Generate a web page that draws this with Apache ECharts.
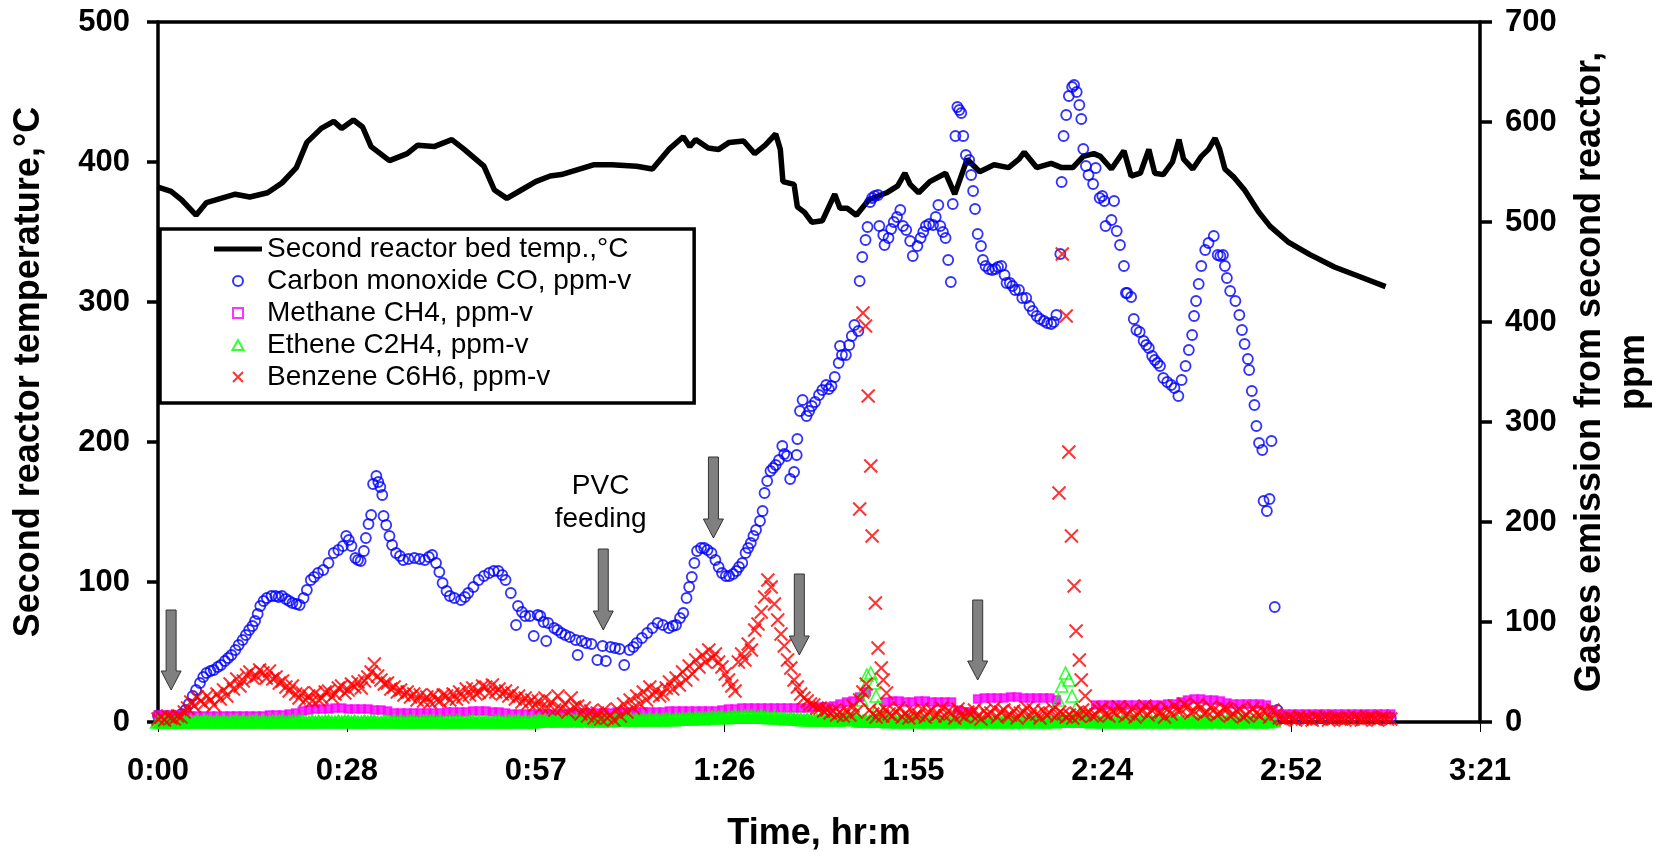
<!DOCTYPE html>
<html><head><meta charset="utf-8">
<script src="https://cdn.jsdelivr.net/npm/echarts@6/dist/echarts.min.js"></script>
<style>html,body{margin:0;padding:0;background:#fff}#c{width:1665px;height:852px}</style>
</head><body><div id="c"></div>
<script>
const FONT = '"Liberation Sans", Arial, Helvetica, sans-serif';

// ---- axes (time in minutes; ticks every 0.02 day = 28.8 min) ----
const timeAxisMax = 201.6;
const timeTickStep = 28.8;
const tempAxis = [0, 500, 100];   // min, max, step (°C)
const gasAxis = [0, 700, 100];    // min, max, step (ppm)

const seriesNames = ['Second reactor bed temp.,°C', 'Carbon monoxide CO, ppm-v', 'Methane CH4, ppm-v', 'Ethene C2H4, ppm-v', 'Benzene C6H6, ppm-v'];

// ---- second reactor bed temperature [minute, °C] ----
const bedTemperature = [[0,382],[2,379],[3.6,373],[5.8,362],[7.4,371],[9.6,374],[11.8,377],[14,375],[16.7,378],[18.9,385],[21.1,396],[22.7,414],[24.9,424],[26.8,429],[28,424],[29.8,430],[31.2,425],[32.5,411],[35.3,401],[38,406],[39.6,412],[42.1,411],[44.8,416],[46.7,409],[49.7,397],[51.3,380],[53.2,374],[55.4,380],[57.6,386],[59.8,390],[61.5,391],[66.4,398],[69.2,398],[73,397],[75.4,395],[77.9,409],[80.1,418],[81.1,411],[82,416],[83.9,410],[85.5,409],[87.1,414],[89.3,415],[91,406],[92.6,412],[94.2,420],[94.9,409],[95.3,386],[97,384],[97.5,368],[98.6,364],[99.7,357],[101.3,358],[103.2,377],[104,367],[105.1,367],[106.5,362],[108.4,373],[111.1,378],[112.8,383],[113.9,392],[114.7,384],[116,378],[117.7,386],[120.1,392],[121.5,377],[123.4,402],[125.3,393],[127.5,398],[129.7,396],[131.3,402],[132.1,407],[134,396],[136.2,399],[137.8,396],[139.5,396],[141.1,404],[142.7,406],[143.7,404],[145.4,395],[147.3,408],[148.4,390],[149.8,392],[151.1,409],[152,392],[153.3,391],[154.7,400],[155.7,416],[156.4,402],[157.8,395],[159.1,404],[160.2,409],[161.2,417],[161.9,409],[162.7,395],[164.1,389],[165.7,380],[167.9,364],[169.6,354],[172.3,343],[175.6,334],[179.4,325],[183.3,318],[187.2,311]];

// ---- carbon monoxide [minute, ppm] ----
const carbonMonoxide = [[0,6],[0.7,5],[1.4,6],[2.1,5],[2.8,4],[3.1,5],[3.6,8],[4.2,12],[4.7,18],[5.3,26],[5.8,32],[6.4,39],[6.9,45],[7.4,49],[8,51],[8.5,52],[9.1,55],[9.6,57],[10.2,61],[10.7,64],[11.2,67],[11.8,72],[12.3,77],[12.9,82],[13.4,87],[13.9,92],[14.4,96],[14.8,101],[15.2,108],[15.6,116],[16.1,121],[16.6,124],[17.3,126],[17.9,126],[18.4,125],[18.9,126],[19.5,123],[20,121],[20.5,119],[21.1,118],[21.6,117],[22.2,124],[22.7,132],[23.3,142],[23.8,145],[24.4,149],[25.2,152],[26,159],[26.8,169],[27.5,172],[28.2,176],[28.7,186],[29.1,182],[29.5,176],[30.1,164],[30.5,162],[30.9,161],[31.4,171],[31.7,184],[32.1,198],[32.5,207],[32.8,238],[33.3,246],[33.6,240],[33.9,235],[34.2,227],[34.4,206],[34.8,197],[35.3,186],[35.7,177],[36.3,169],[36.9,166],[37.4,162],[38.2,163],[39.1,164],[39.9,163],[40.7,162],[41.3,165],[41.8,167],[42.4,159],[42.9,150],[43.4,139],[44,131],[44.5,126],[45.2,124],[46.2,122],[46.8,125],[47.3,129],[48.1,135],[48.9,142],[49.7,146],[50.5,149],[51.2,151],[51.9,151],[52.5,147],[53,142],[53.8,129],[54.6,97],[54.9,116],[55.5,110],[56,106],[56.7,106],[57.3,86],[57.9,107],[58.3,106],[58.8,100],[59.2,81],[59.5,99],[60.4,94],[60.9,92],[61.5,89],[62.1,87],[62.8,85],[63.7,82],[64,67],[64.6,81],[65.3,79],[66.1,78],[67,62],[67.8,76],[68.3,61],[69,75],[69.7,74],[70.4,73],[71.1,57],[71.9,72],[72.5,75],[73,79],[73.8,84],[74.6,89],[75.4,94],[76.2,99],[77,97],[77.9,94],[78.5,96],[79,97],[79.6,104],[80.1,109],[80.6,124],[81,135],[81.4,145],[81.8,159],[82.2,171],[82.8,174],[83.3,174],[83.8,172],[84.4,169],[85,162],[85.5,155],[86,149],[86.6,146],[87.1,146],[87.7,148],[88.2,151],[88.6,155],[89.1,159],[89.6,169],[90,174],[90.4,179],[90.8,186],[91.2,192],[91.8,201],[92.2,211],[92.5,229],[92.9,241],[93.4,251],[93.8,254],[94.2,257],[94.7,262],[95.2,276],[95.5,268],[95.9,266],[96.4,243],[97,250],[97.4,267],[97.5,283],[97.9,311],[98.3,322],[98.9,306],[99.3,311],[99.7,316],[100.2,320],[100.8,327],[101.3,332],[101.9,337],[102.3,333],[102.7,336],[103.2,345],[103.8,359],[104,376],[104.3,367],[104.9,367],[105.4,377],[105.8,386],[106.2,397],[106.8,391],[107,441],[107.4,465],[107.9,482],[108.2,495],[108.6,520],[108.9,524],[109.3,526],[109.8,527],[110,496],[110.6,487],[110.8,477],[111.4,484],[111.8,493],[112.2,500],[112.7,505],[113.2,512],[113.6,496],[114.1,492],[114.7,481],[115.1,466],[115.8,476],[116.3,484],[116.7,490],[117.1,496],[117.6,498],[118.2,497],[118.6,505],[119,517],[119.3,496],[119.7,490],[120.1,484],[120.5,462],[120.9,440],[121.2,518],[121.6,586],[121.9,615],[122.2,612],[122.5,609],[122.8,586],[123.2,567],[123.7,562],[124,547],[124.3,531],[124.6,513],[125,488],[125.5,476],[125.8,462],[126.2,456],[126.7,453],[127.2,452],[127.7,453],[128.1,455],[128.6,456],[129.1,447],[129.4,439],[129.9,439],[130.3,436],[130.7,432],[131.3,432],[131.8,424],[132.4,424],[132.9,416],[133.4,411],[134,406],[134.5,403],[135.1,401],[135.6,399],[136.2,398],[136.6,400],[137,407],[137.6,468],[137.8,540],[138.1,586],[138.5,607],[138.9,626],[139.4,635],[139.7,637],[140.1,630],[140.5,617],[140.8,603],[141.1,573],[141.5,556],[141.9,547],[142.6,538],[143,554],[143.6,524],[144,526],[144.3,521],[144.5,496],[145.4,502],[145.8,521],[146.2,491],[146.7,477],[147.3,456],[147.6,429],[147.8,429],[148.4,425],[148.8,403],[149.2,392],[149.7,390],[150.3,381],[150.7,377],[151.1,374],[151.6,366],[152,362],[152.4,359],[152.8,356],[153.3,344],[153.9,340],[154.5,337],[155,334],[155.6,326],[156.1,342],[156.7,356],[157.2,372],[157.7,387],[158,406],[158.3,421],[158.7,438],[159.1,456],[159.7,472],[160.2,479],[161,486],[161.6,467],[162,466],[162.4,467],[162.7,456],[163,444],[163.5,431],[164.3,421],[164.9,407],[165.3,392],[165.7,378],[166.2,363],[166.4,352],[166.8,331],[167.2,317],[167.5,296],[167.9,279],[168.4,272],[168.6,221],[169.1,211],[169.5,223],[169.8,281],[170.3,115],[170.7,12],[171.5,5],[172.5,4],[173.5,5],[174.5,4],[175.5,4],[176.5,5],[177.5,4],[178.5,4],[179.5,5],[180.5,4],[181.5,4],[182.5,5],[183.5,4],[184.5,4],[185.5,5],[186.5,4],[187.5,4],[188,4]];

// ---- methane, ppm, one reading per minute from minute 0 ----
const methaneStartMin = 0, methaneStepMin = 1;
const methane = [7,7,7,7,7, 6,6,6,6,6,6,6,6,6,6, 6,6,7,7,7,8, 9,11,12,13,13,13,14,14,13,13,13,13,12,12,11, 9,9,9,9,9,9,9,9,10,10,10, 10,11,11,11,10,10, 9,8,8,8,8, 8,8,8,8,8,9,9,9,9,9,9,9,10,10,10,10,10,10,10,10,11,11,11,11,11,11,11,11,12, 13,13,14,14,14,14,14,14,14,14,14,14,14,15,15,15,16,18,20,21,25, 30,1,1, 20,21,21,20,20,21,21,20,20,20,20, 12,10,10, 23,24,24,24,24,25,25,24,24,24,24,24,22, 2,2,2,2,3, 17,17,17,17,17,17,17,17,17,17,17,18, 18,20,22,23,23,22,22,21,19, 18,18,18,18,18,17,12, 8,8,8,8,8,8,8,8,8,8,8,8,8,8,8,8,8,8];

// ---- ethene, ppm, one reading per half minute from minute 0, plus the two peaks ----
const etheneStartMin = 0, etheneStepMin = 0.5;
const ethene = [0,0,0,0,0,0,0,0,
0,1,0,0,1,0,1,1,0,0, 1,0,1,0,0,1,1,0,1,0, 0,1,1,0,1,0,0,1,0,1, 1,0,0,1,0,1,1,0,0,1, 0,1,0,1,1,0,0,1,0,1,
1,0,1,0,0,1,0,1,1,0, 0,1,1,0,1,0,1,0,0,1, 1,0,0,1,0,1,1,0,1,0, 0,1,0,1,1,0,0,1,1,0, 1,0,1,0,0,1,1,0,0,1, 0,1,1,0,1,0,0,1,
1,2,1,1,2,2,1,2,1,2, 2,1,2,2,1,2,2,1,2,1, 2,2,1,2,2,3,2,2,3,2, 2,3,2,2,3,2,3,2,2,3, 3,2,3,3,
3,3,4,3,4,4,3,4,4,5, 4,5,5,4,5,5,6,5,5,6, 5,6,5,5,6,5,5,4,5,4, 4,4,3,4,3,3,3,2,3,2,
2,2,3,2,2,3,2,2,3,2,3,3,4,4,
1,1,1,1,1,1,1,1,
1,0,1,1,0,1,0,1,1,0, 1,1,0,1,0,1,1,0,1,0, 1,1,0,1,1,0,1,0,1,1, 0,1,1,0,1,0,1,1,0,1, 0,1,1,0,1,1,0,1,0,1, 1,0,
1,1,1,1,1,1,1,1,1,1,
1,0,1,1,0,1,1,0,1,0, 1,1,0,1,0,1,1,0,1,1, 0,1,0,1,1,0,1,1,0,1, 0,1,1,0,1,0,1,1,0,1, 1,0,1,1,0,1,0,1,1,0, 1,1,0,1,0,1,1];
const ethenePeaks = [[107.3,22],[107.6,32],[108.1,47],[108.7,49],[109.2,39],[109.5,26],[109.8,16],[110.6,9],[137.3,22],[137.8,36],[138.4,49],[138.9,42],[139.4,26],[140.0,14],[140.8,6]];

// ---- benzene, ppm, one reading per half minute from minute 0, plus the two peaks ----
const benzeneStartMin = 0, benzeneStepMin = 0.5;
const benzene = [3,5,2,6,4,3,6,5,10,14,20,16,25,21,18,26,22,17,28,23,
32,26,38,33,43,36,41,47,50,44,46,52,49,44,51,43,45,39,41,35,
31,36,28,24,29,22,26,21,29,22,24,30,31,25,28,34,36,29,32,38,
35,40,34,41,45,50,58,46,42,38,39,33,35,30,32,27,30,25,28,22,
27,21,25,20,27,22,21,27,26,22,28,23,30,25,33,27,34,28,30,36,
35,29,37,30,33,28,31,26,29,23,26,20,24,19,22,17,21,15,24,14,
20,12,26,13,18,10,24,15,16,8,14,6,11,4,9,3,12,4,7,2,
13,6,18,10,22,14,26,18,30,22,35,27,32,26,28,34,40,33,44,37,
50,42,56,48,62,55,67,60,72,64,68,60,55,48,42,36,31,60,68,62,
78,72,92,98,110,125,142,135,118,102,88,76,62,54,42,35,28,24,21,18,
17,14,14,11,12,9,11,7,10,6,12,7,16,10,22,30,38,12,8,5,
10,6,12,8,6,10,14,5,9,4,11,6,7,13,5,10,12,6,8,14,
6,11,9,4,13,7,5,10,8,12,6,3,11,7,9,14,5,10,12,6,
7,11,4,9,10,14,6,12,8,4,11,7,9,13,6,10,8,5,7,4,
9,6,12,8,10,6,7,12,14,8,6,11,9,15,12,6,8,13,5,10,
11,16,7,12,14,9,10,5,13,8,16,11,12,18,15,9,11,17,14,8,
10,15,12,7,9,14,13,6,8,11,12,5,7,10,14,9,6,11,10,5,
12,8,4,3,3,5,4,2,5,3,3,4,2,5,4,3,5,2,3,4,
4,3,2,4,3,5,4,2,3,4,5,3,2,4,4,3,3];
const benzenePeaks = [[107.0,213],[107.5,409],[107.9,396],[108.3,326],[108.7,256],[108.9,186],[109.4,119],[109.8,74],[110.3,54],[110.6,42],[111.1,29],[137.4,229],[137.9,468],[138.5,406],[138.9,270],[139.3,186],[139.7,136],[140.0,91],[140.5,62],[140.8,42],[141.4,26]];

// ---- annotations: feeding arrows [minute, top ppm, tip ppm] and label ----
const feedArrows = [[2.0,112,32],[67.9,173,92],[84.7,265,184],[97.8,148,67],[125.0,122,42]];
const pvcLabel = {text: 'PVC\nfeeding', at: [67.5, 219]};
const axisTitles = {x: 'Time, hr:m', left: 'Second reactor temperature,°C', right: 'Gases emission from second reactor,\nppm'};

// ---- helpers ----
function sampled(values, start, step) {
  const out = [];
  values.forEach((v, i) => { if (v !== null) out.push([start + i * step, v]); });
  return out;
}
// dense baseline readings overlap into a solid band, drawn filled
function denseBand(points, color, size) {
  return points.map(p => size ? ({value: p, symbolSize: size, itemStyle: {color: color}}) : ({value: p, itemStyle: {color: color}}));
}
function fmtTime(v) {
  const m = Math.floor(v + 1e-6);
  return Math.floor(m / 60) + ':' + String(m % 60).padStart(2, '0');
}
const CROSS = 'path://M0,0L10,10M10,0L0,10';
const tickLabel = {fontSize: 31, fontWeight: 'bold', fontFamily: FONT, color: '#000'};
const axisLineStyle = {color: '#000', width: 3.5};

const chart = echarts.init(document.getElementById('c'), null, {renderer: 'canvas', width: 1665, height: 852});
const option = {
  animation: false,
  backgroundColor: '#fff',
  grid: {left: 158, right: 185, top: 22, bottom: 130, containLabel: false, outerBoundsMode: 'none'},
  xAxis: [
    {type: 'value', min: 0, max: timeAxisMax, interval: timeTickStep, position: 'bottom',
      axisLine: {show: true, onZero: false, lineStyle: axisLineStyle},
      axisTick: {show: true, length: 10, lineStyle: {color: '#000', width: 1}},
      axisLabel: Object.assign({margin: 34, formatter: fmtTime, showMinLabel: true, showMaxLabel: true, hideOverlap: false}, tickLabel),
      splitLine: {show: false}},
    {type: 'value', min: 0, max: timeAxisMax, interval: timeTickStep, position: 'top',
      axisLine: {show: true, onZero: false, lineStyle: axisLineStyle},
      axisTick: {show: false}, axisLabel: {show: false}, splitLine: {show: false}}
  ],
  yAxis: [
    {type: 'value', min: tempAxis[0], max: tempAxis[1], interval: tempAxis[2], position: 'left',
      axisLine: {show: true, onZero: false, lineStyle: axisLineStyle},
      axisTick: {show: true, length: 11, lineStyle: axisLineStyle},
      axisLabel: Object.assign({margin: 28}, tickLabel), splitLine: {show: false}},
    {type: 'value', min: gasAxis[0], max: gasAxis[1], interval: gasAxis[2], position: 'right',
      axisLine: {show: true, onZero: false, lineStyle: axisLineStyle},
      axisTick: {show: true, length: 12, lineStyle: axisLineStyle},
      axisLabel: Object.assign({margin: 25}, tickLabel), splitLine: {show: false}}
  ],
  legend: {
    orient: 'vertical', left: 160, top: 229, padding: [6, 63, 12, 54], itemGap: 4,
    itemWidth: 48, itemHeight: 10, symbolKeepAspect: true,
    backgroundColor: '#fff', borderColor: '#000', borderWidth: 3.5,
    textStyle: {fontSize: 28, fontFamily: FONT, color: '#000'},
    data: [
      {name: seriesNames[0], icon: 'path://M0,0L48,0L48,5L0,5Z'},
      {name: seriesNames[1]},
      {name: seriesNames[2], icon: 'path://M0,0L10,0L10,10L0,10Z'},
      {name: seriesNames[3], icon: 'path://M5,0L10,9L0,9Z'},
      {name: seriesNames[4]}
    ],
    selectedMode: false
  },
  series: [
    {name: seriesNames[0], type: 'line', xAxisIndex: 0, yAxisIndex: 0, data: bedTemperature,
      symbol: 'none', showSymbol: false, lineStyle: {color: '#000', width: 5.5}, itemStyle: {color: '#000'}, z: 2},
    {name: seriesNames[1], type: 'scatter', xAxisIndex: 0, yAxisIndex: 1, data: carbonMonoxide,
      symbol: 'circle', symbolSize: 10, itemStyle: {color: 'rgba(0,0,0,0)', borderColor: '#0000ff', borderWidth: 1.8}, z: 3},
    {name: seriesNames[2], type: 'scatter', xAxisIndex: 0, yAxisIndex: 1, data: denseBand(sampled(methane, methaneStartMin, methaneStepMin), '#ff00ff'),
      symbol: 'rect', symbolSize: 8, itemStyle: {color: 'rgba(0,0,0,0)', borderColor: '#ff00ff', borderWidth: 1.6}, z: 4},
    {name: seriesNames[3], type: 'scatter', xAxisIndex: 0, yAxisIndex: 1, data: denseBand(sampled(ethene, etheneStartMin, etheneStepMin), '#00ff00', [15, 12]).concat(ethenePeaks),
      symbol: 'triangle', symbolSize: 12, itemStyle: {color: 'rgba(0,0,0,0)', borderColor: '#00ff00', borderWidth: 1.6}, z: 5},
    {name: seriesNames[4], type: 'scatter', xAxisIndex: 0, yAxisIndex: 1, data: sampled(benzene, benzeneStartMin, benzeneStepMin).concat(benzenePeaks),
      symbol: CROSS, symbolSize: 13, itemStyle: {color: 'rgba(0,0,0,0)', borderColor: '#ff0000', borderWidth: 2}, z: 6}
  ]
};
chart.setOption(option);

// annotations positioned through the chart's own scales
const toPx = (t, ppm) => chart.convertToPixel({seriesIndex: 1}, [t, ppm]);
const graphics = [];
feedArrows.forEach(([t, top, tip]) => {
  const a = toPx(t, top), b = toPx(t, tip);
  const cx = a[0], yt = a[1], yb = b[1], hw = 5, hh = 10, hl = 19;
  graphics.push({type: 'polygon', z: 100, shape: {points: [[cx - hw, yt], [cx + hw, yt], [cx + hw, yb - hl], [cx + hh, yb - hl], [cx, yb], [cx - hh, yb - hl], [cx - hw, yb - hl]]},
    style: {fill: '#808080', stroke: '#333', lineWidth: 1}});
});
const lp = toPx(pvcLabel.at[0], pvcLabel.at[1]);
graphics.push({type: 'text', z: 100, x: lp[0], y: lp[1], style: {text: pvcLabel.text, fontSize: 28, fontFamily: FONT, fill: '#000', align: 'center', verticalAlign: 'middle', lineHeight: 33}});
graphics.push({type: 'text', z: 100, x: 819, y: 834, style: {text: axisTitles.x, fontSize: 36, fontWeight: 'bold', fontFamily: FONT, fill: '#000', align: 'center', verticalAlign: 'middle'}});
graphics.push({type: 'text', z: 100, x: 29, y: 372, rotation: Math.PI / 2, style: {text: axisTitles.left, fontSize: 36, fontWeight: 'bold', fontFamily: FONT, fill: '#000', align: 'center', verticalAlign: 'middle'}});
graphics.push({type: 'text', z: 100, x: 1612, y: 372, rotation: Math.PI / 2, style: {text: axisTitles.right, fontSize: 36, fontWeight: 'bold', fontFamily: FONT, fill: '#000', align: 'center', verticalAlign: 'middle', lineHeight: 44}});
chart.setOption({graphic: graphics});
</script></body></html>
